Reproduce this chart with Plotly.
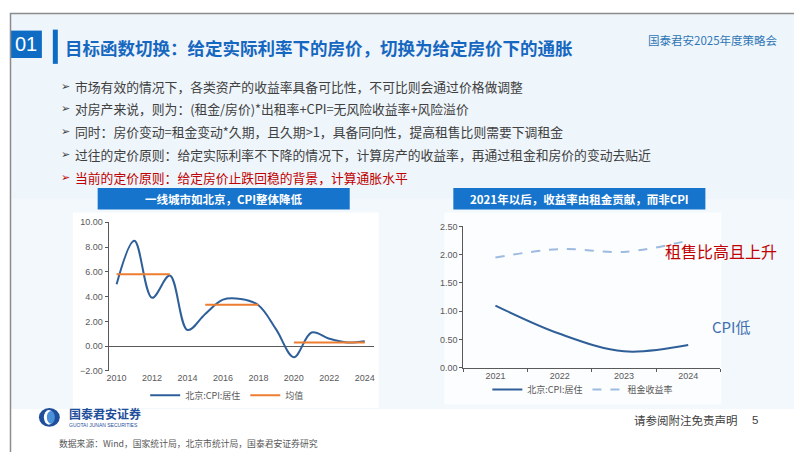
import plotly.graph_objects as go

W, H = 802, 452

# ---------------- data ----------------
years_left = [2010, 2011, 2012, 2013, 2014, 2015, 2016, 2017, 2018, 2019, 2020, 2021, 2022, 2023, 2024]
cpi_housing_bj = [5.0, 8.5, 3.9, 5.7, 1.3, 2.6, 3.75, 3.8, 3.3, 1.35, -0.9, 1.1, 0.6, 0.3, 0.4]
mean_vals = [5.8, 5.8, 5.8, 5.8, None, 3.35, 3.35, 3.35, 3.35, None, 0.3, 0.3, 0.3, 0.3, 0.3]
left_xticks = [2010, 2012, 2014, 2016, 2018, 2020, 2022, 2024]
left_yticks = [-2, 0, 2, 4, 6, 8, 10]

years_right = ["2021", "2022", "2023", "2024"]
cpi_right = [1.1, 0.6, 0.29, 0.4]
rent_yield = [1.95, 2.1, 2.05, 2.25]
right_yticks = [0, 0.5, 1.0, 1.5, 2.0, 2.5]

bullets = [
    "市场有效的情况下，各类资产的收益率具备可比性，不可比则会通过价格做调整",
    "对房产来说，则为：(租金/房价)*出租率+CPI=无风险收益率+风险溢价",
    "同时：房价变动=租金变动*久期，且久期>1，具备同向性，提高租售比则需要下调租金",
    "过往的定价原则：给定实际利率不下降的情况下，计算房产的收益率，再通过租金和房价的变动去贴近",
    "当前的定价原则：给定房价止跌回稳的背景，计算通胀水平",
]

# ---------------- helpers ----------------
def X(px):
    return px / W

def Y(py):
    return 1 - py / H

CJK = "Noto Sans CJK SC"
BLUE_LINE = "#2F5F98"
ORANGE = "#ED7D31"
LIGHT_BLUE = "#9DBBE0"
AXIS = "#595959"

fig = go.Figure()

# Left chart traces
fig.add_trace(go.Scatter(
    x=years_left, y=cpi_housing_bj, name="北京:CPI:居住", mode="lines",
    line=dict(color=BLUE_LINE, width=2, shape="spline", smoothing=1.0),
    xaxis="x", yaxis="y", legend="legend"))
fig.add_trace(go.Scatter(
    x=years_left, y=mean_vals, name="均值", mode="lines", connectgaps=False,
    line=dict(color=ORANGE, width=2),
    xaxis="x", yaxis="y", legend="legend"))

# Right chart traces
fig.add_trace(go.Scatter(
    x=years_right, y=cpi_right, name="北京:CPI:居住", mode="lines",
    line=dict(color=BLUE_LINE, width=2, shape="spline", smoothing=1.0),
    xaxis="x2", yaxis="y2", legend="legend2"))
fig.add_trace(go.Scatter(
    x=years_right, y=rent_yield, name="租金收益率", mode="lines",
    line=dict(color=LIGHT_BLUE, width=2, dash="dash", shape="spline", smoothing=1.0),
    xaxis="x2", yaxis="y2", legend="legend2"))

tickfont = dict(family="Liberation Sans, Arial", size=9, color=AXIS)

shapes = []
# background layers
shapes.append(dict(type="rect", xref="paper", yref="paper", x0=0, x1=1, y0=Y(405), y1=1,
                   fillcolor="#EEF5FB", line=dict(width=0), layer="below"))
shapes.append(dict(type="rect", xref="paper", yref="paper", x0=0, x1=1, y0=Y(405), y1=Y(190),
                   fillcolor="#F3F8FC", line=dict(width=0), layer="below"))
# chart panels
shapes.append(dict(type="rect", xref="paper", yref="paper", x0=X(63), x1=X(370), y0=Y(404), y1=Y(204),
                   fillcolor="#FFFFFF", line=dict(width=0), layer="below"))
shapes.append(dict(type="rect", xref="paper", yref="paper", x0=X(436), x1=X(714), y0=Y(400), y1=Y(204),
                   fillcolor="#FCFDFE", line=dict(width=0), layer="below"))
# header box and bar
shapes.append(dict(type="rect", xref="paper", yref="paper", x0=0, x1=X(32), y0=Y(46), y1=Y(18),
                   fillcolor="#0F6CC4", line=dict(width=0)))
shapes.append(dict(type="rect", xref="paper", yref="paper", x0=X(43), x1=X(48), y0=Y(52), y1=Y(17),
                   fillcolor="#0F6CC4", line=dict(width=0)))
# banners
shapes.append(dict(type="rect", xref="paper", yref="paper", x0=X(88), x1=X(341), y0=Y(201), y1=Y(179),
                   fillcolor="#1674CC", line=dict(width=0)))
shapes.append(dict(type="rect", xref="paper", yref="paper", x0=X(445), x1=X(698), y0=Y(201), y1=Y(179),
                   fillcolor="#1674CC", line=dict(width=0)))
# logo
shapes.append(dict(type="circle", xref="paper", yref="paper", x0=X(29), x1=X(50), y0=Y(423), y1=Y(404),
                   fillcolor="#1F4E9A", line=dict(width=0)))
shapes.append(dict(type="circle", xref="paper", yref="paper", x0=X(34), x1=X(44), y0=Y(421), y1=Y(406),
                   fillcolor="#FFFFFF", line=dict(width=0)))
shapes.append(dict(type="circle", xref="paper", yref="paper", x0=X(37), x1=X(45), y0=Y(420), y1=Y(407),
                   fillcolor="#4A90D9", line=dict(width=0)))
# frame
shapes.append(dict(type="rect", xref="paper", yref="paper", x0=X(0.5), x1=X(801.5), y0=Y(451.5), y1=Y(0.5),
                   fillcolor="rgba(0,0,0,0)", line=dict(color="#8C8C8C", width=1.5)))

annotations = []
def txt(text, x, y, size, color, xanchor="left", bold=False, family=CJK):
    annotations.append(dict(
        text=("<b>%s</b>" % text) if bold else text, x=X(x), y=Y(y), xref="paper", yref="paper",
        xanchor=xanchor, yanchor="middle", showarrow=False,
        font=dict(family=family, size=size, color=color)))

txt("01", 16, 32, 20, "#FFFFFF", xanchor="center", family="Liberation Sans, Arial")
txt("目标函数切换：给定实际利率下的房价，切换为给定房价下的通胀", 53, 35, 17.5, "#1667C0", bold=True)
txt("国泰君安2025年度策略会", 706, 28, 11.5, "#2E75B6", xanchor="center")

bullet_y = [75, 98, 121, 145, 168]
for i, (b, yy) in enumerate(zip(bullets, bullet_y)):
    col = "#C00000" if i == len(bullets) - 1 else "#404040"
    txt("➢", 49, yy, 11, col, family="DejaVu Sans")
    txt(b, 63, yy, 12.8, col)

txt("一线城市如北京，CPI整体降低", 214.5, 190, 11.5, "#FFFFFF", xanchor="center", bold=True)
txt("2021年以后，收益率由租金贡献，而非CPI", 571.5, 190, 11.5, "#FFFFFF", xanchor="center", bold=True)

txt("租售比高且上升", 714, 243, 16, "#C00000", xanchor="center")
txt("CPI低", 724, 321, 15, "#3E6FB0", xanchor="center")

txt("国泰君安证券", 57, 410, 12, "#1F4E9A", bold=True)
txt("GUOTAI JUNAN SECURITIES", 57, 421.5, 5, "#1F4E9A", family="Liberation Sans, Arial")
txt("请参阅附注免责声明", 679, 416, 11.5, "#404040", xanchor="center")
txt("5", 748, 416, 11.5, "#404040", xanchor="center", family="Liberation Sans, Arial")
txt("数据来源：Wind，国家统计局，北京市统计局，国泰君安证券研究", 47, 440, 8.8, "#595959")

fig.update_layout(
    width=W, height=H, autosize=False,
    margin=dict(l=0, r=0, t=0, b=0),
    paper_bgcolor="#FFFFFF", plot_bgcolor="rgba(0,0,0,0)",
    showlegend=True,
    xaxis=dict(domain=[X(99), X(365)], range=[2009.55, 2024.5], tickvals=left_xticks,
               showline=False, showgrid=False, zeroline=False, ticks="", tickfont=tickfont,
               anchor="y"),
    yaxis=dict(domain=[Y(366), Y(214)], range=[-2, 10], tickvals=left_yticks, tickformat=".2f",
               showline=True, linecolor=AXIS, linewidth=1, ticks="outside", ticklen=3, tickcolor=AXIS,
               showgrid=False, zeroline=True, zerolinecolor=AXIS, zerolinewidth=1,
               tickfont=tickfont, anchor="x"),
    xaxis2=dict(domain=[X(455), X(713)], type="category", range=[-0.5, 3.5],
                showline=True, linecolor=AXIS, linewidth=1, ticks="outside", ticklen=3,
                tickcolor=AXIS, tickson="boundaries", showgrid=False, zeroline=False,
                tickfont=tickfont, anchor="y2"),
    yaxis2=dict(domain=[Y(362.7), Y(218.3)], range=[0, 2.5], tickvals=right_yticks, tickformat=".2f",
                showline=True, linecolor=AXIS, linewidth=1, ticks="outside", ticklen=3, tickcolor=AXIS,
                showgrid=False, zeroline=False, tickfont=tickfont, anchor="x2"),
    legend=dict(orientation="h", x=X(218), y=Y(391), xanchor="center", yanchor="middle",
                bgcolor="rgba(0,0,0,0)", font=dict(family=CJK, size=9, color=AXIS),
                itemwidth=30, tracegroupgap=0),
    legend2=dict(orientation="h", x=X(575), y=Y(385), xanchor="center", yanchor="middle",
                 bgcolor="rgba(0,0,0,0)", font=dict(family=CJK, size=9, color=AXIS),
                 itemwidth=30, tracegroupgap=0),
    shapes=shapes,
    annotations=annotations,
)

fig.write_html("out.html")
